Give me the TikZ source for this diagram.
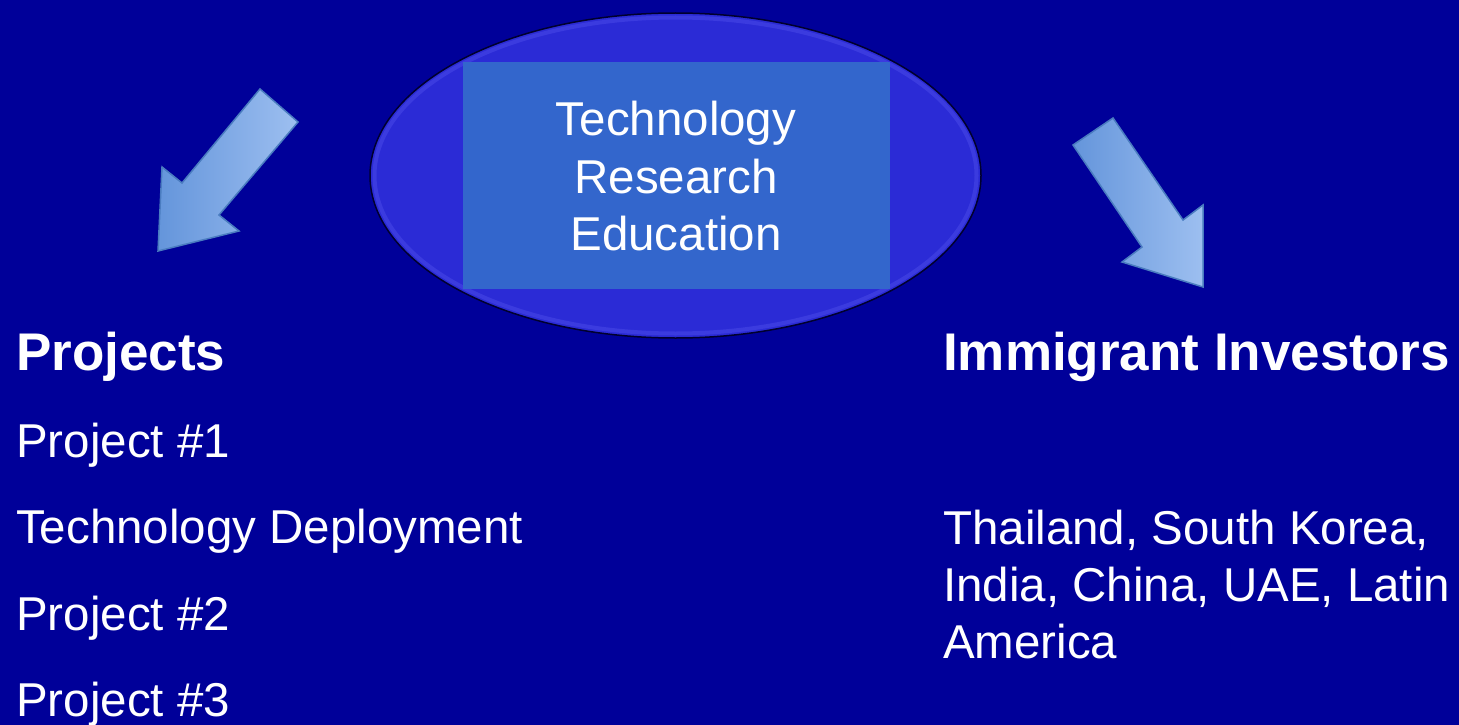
\documentclass[tikz,border=0pt]{standalone}
\usepackage{fontspec}
\setmainfont{Liberation Sans}
\definecolor{slide}{HTML}{000099}
\definecolor{ovalfill}{HTML}{2B2BD6}
\definecolor{ovalrim}{HTML}{5A5AF0}
\definecolor{boxfill}{HTML}{3366CC}
\definecolor{arrowlight}{HTML}{9DBFF0}
\definecolor{arrowdark}{HTML}{6495DB}
\definecolor{arrowedge}{HTML}{4A7CC0}
\tikzset{x=1pt, y=-1pt,
    heading/.style={anchor=base west, inner sep=0pt, text=white,
        font=\fontsize{53}{60}\selectfont\bfseries},
    item/.style={anchor=base west, inner sep=0pt, text=white,
        font=\fontsize{47.5}{57.5}\selectfont},
    topic/.style={anchor=base, inner sep=0pt, text=white,
        font=\fontsize{47.5}{57.5}\selectfont},
    blockarrow/.style={draw=arrowedge, line width=1.5pt, line join=miter,
        left color=arrowdark, right color=arrowlight},
    }

\begin{document}
\begin{tikzpicture}
\fill[slide] (0,0) rectangle (1459,725);
\useasboundingbox (0,0) rectangle (1459,725);
% oval with the three topics
\fill[ovalfill] (675.5,175.5) ellipse (305.5 and 162.5);
\draw[ovalrim, line width=4pt, opacity=.35] (675.5,175.5) ellipse (301 and 158);
\draw[black!70!slide, line width=1.5pt] (675.5,175.5) ellipse (305.5 and 162.5);
\node[fill=boxfill, minimum width=427pt, minimum height=227pt, inner sep=0pt]
    (topicbox) at (676.5,175.5) {};
\node[topic] (tech) at (676,135) {Technology};
\node[topic] (research) at (676,193) {Research};
\node[topic] (edu) at (676,250) {Education};
% arrows
\draw[blockarrow] (158,251) -- (162,167) -- (182,183) -- (260,89)
    -- (298,122) -- (219,215) -- (239,231) -- cycle;
\draw[blockarrow] (1073,145) -- (1113,118) -- (1183,220) -- (1203,205)
    -- (1203,287) -- (1122,262) -- (1142,247) -- cycle;
% left column
\node[heading] (projects) at (16,370) {Projects};
\node[item] (proj1) at (16,457) {Project \#1};
\node[item] (deploy) at (16,543) {Technology Deployment};
\node[item] (proj2) at (16,630) {Project \#2};
\node[item] (proj3) at (16,716) {Project \#3};
% right column
\node[heading] (investors) at (943,370) {Immigrant Investors};
\node[item] (land1) at (943,544) {Thailand, South Korea,};
\node[item] (land2) at (943,601) {India, China, UAE, Latin};
\node[item] (land3) at (943,658) {America};
\end{tikzpicture}
\end{document}
